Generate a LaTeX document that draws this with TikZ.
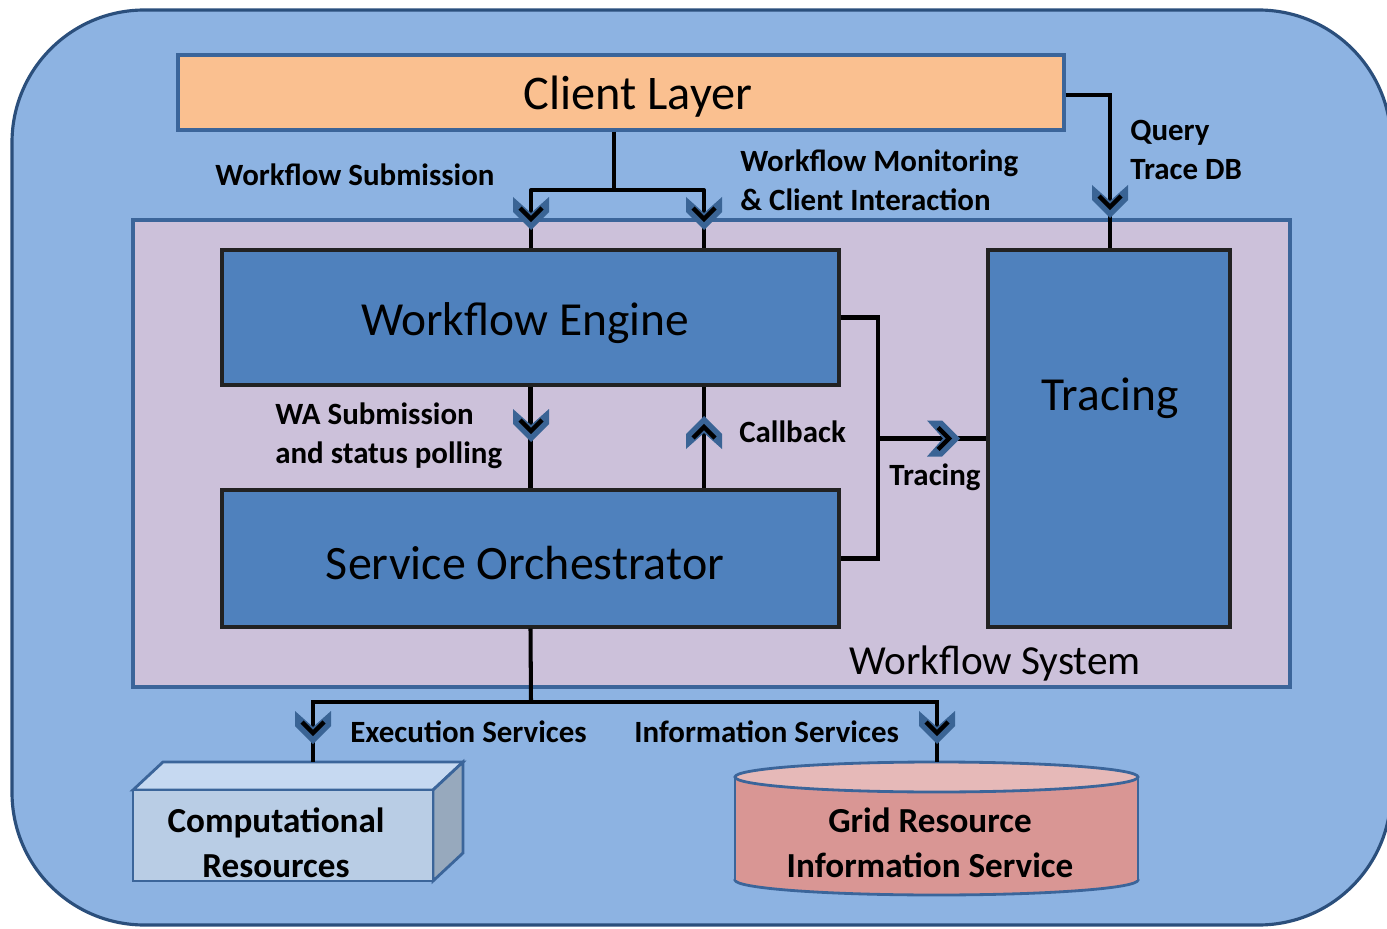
\documentclass[tikz,border=0pt]{standalone}
\usepackage{fontspec}
\setmainfont{Carlito}
\usetikzlibrary{calc}
\definecolor{outerfill}{HTML}{8DB3E2}
\definecolor{outerline}{HTML}{2B4F7C}
\definecolor{clientfill}{HTML}{FAC090}
\definecolor{boxline}{HTML}{3B659A}
\definecolor{sysfill}{HTML}{CCC1DA}
\definecolor{enginefill}{HTML}{4F81BD}
\definecolor{engineline}{HTML}{222222}
\definecolor{chevfill}{HTML}{3A6495}
\definecolor{compfront}{HTML}{B9CDE5}
\definecolor{comptop}{HTML}{C6D9F1}
\definecolor{compside}{HTML}{97A9BD}
\definecolor{cylbody}{HTML}{D99694}
\definecolor{cyltop}{HTML}{E6B9B8}
\tikzset{
  conn/.style={draw=black, line width=2.3pt},
  bigbox/.style={draw=engineline, fill=enginefill, line width=1.8pt, inner sep=0pt},
  bigtext/.style={inner sep=0pt, font=\fontsize{27}{32}\selectfont},
  lbl/.style={inner sep=0pt, font=\bfseries\fontsize{17.6}{22}\selectfont, align=left},
  boxlbl/.style={inner sep=0pt, font=\bfseries\fontsize{20}{25.5}\selectfont, align=center},
  chevD/.pic={
    \fill[chevfill] (-18,-15)--(0,1)--(18,-15)--(18,0)--(0,18)--(-18,0)--cycle;
    \draw[black, line width=2.6pt, line join=miter] (-11,-4)--(0,7)--(11,-4);},
  chevU/.pic={
    \fill[chevfill] (-18,15)--(0,-1)--(18,15)--(18,0)--(0,-18)--(-18,0)--cycle;
    \draw[black, line width=2.6pt, line join=miter] (-11,4)--(0,-7)--(11,4);},
  chevR/.pic={
    \fill[chevfill] (-15,-18)--(1,0)--(-15,18)--(0,18)--(18,0)--(0,-18)--cycle;
    \draw[black, line width=2.6pt, line join=miter] (-4,-11)--(7,0)--(-4,11);},
}
\begin{document}
\begin{tikzpicture}[x=0.02cm, y=-0.02cm]
\useasboundingbox (0,0) rectangle (1387,929);
\clip (0,0) rectangle (1387,929);
% outer container
\draw[fill=outerfill, draw=outerline, line width=1.8pt, rounded corners=2.65cm]
  (12,10) rectangle (1391,925);
% client layer
\node[draw=boxline, fill=clientfill, line width=1.8pt, minimum width=886*0.02cm,
  minimum height=75*0.02cm, inner sep=0pt] (client) at (621,92.5) {};
\node[inner sep=0pt, font=\fontsize{27.5}{32}\selectfont] (clientlbl) at (638,97) {Client Layer};
% workflow system
\node[draw=boxline, fill=sysfill, line width=1.8pt, minimum width=1157*0.02cm,
  minimum height=467*0.02cm, inner sep=0pt] (wfsys) at (711.5,453.5) {};
\node[inner sep=0pt, font=\fontsize{23.5}{28}\selectfont] (wfsyslbl) at (995,663) {Workflow System};
% engine, orchestrator, tracing
\node[bigbox, minimum width=617*0.02cm, minimum height=135*0.02cm] (engine) at (530.5,317.5) {};
\node[bigtext] (enginelbl) at (525,323) {Workflow Engine};
\node[bigbox, minimum width=617*0.02cm, minimum height=137*0.02cm] (orch) at (530.5,558.5) {};
\node[bigtext, font=\fontsize{27.3}{32}\selectfont] (orchlbl) at (525,563) {Service Orchestrator};
\node[bigbox, minimum width=242*0.02cm, minimum height=377*0.02cm] (tracing) at (1109,438.5) {};
\node[bigtext] (tracinglbl) at (1110,398) {Tracing};
% computational resources (3D box)
\begin{scope}[draw=boxline, line width=1.6pt, line join=miter]
  \filldraw[fill=comptop] (133,790) -- (163,762) -- (463,762) -- (433,790) -- cycle;
  \filldraw[fill=compside] (433,790) -- (463,762) -- (463,853) -- (433,881) -- cycle;
  \filldraw[fill=compfront] (133,790) rectangle (433,881);
\end{scope}
\coordinate (comptopc) at (313,762);
\node[boxlbl] (comp) at (276,843) {Computational\\Resources};
% cylinder
\filldraw[fill=cylbody, draw=boxline, line width=1.6pt] (936.5,880) ellipse [x radius=201.5, y radius=15];
\fill[cylbody] (735,777) rectangle (1138,880);
\draw[boxline, line width=1.6pt] (735,777) -- (735,880) (1138,777) -- (1138,880);
\filldraw[fill=cyltop, draw=boxline, line width=1.6pt] (936.5,777) ellipse [x radius=201.5, y radius=15];
\coordinate (cyltopc) at (937,762);
\node[boxlbl] (grid) at (930,843) {Grid Resource\\Information Service};
% connectors
\coordinate (j1) at (614,190);
\coordinate (s1) at (531,190);
\coordinate (s2) at (704,190);
\draw[conn] (client.south -| j1) -- (j1);
\draw[conn, line join=round] (s1 |- engine.north) -- (s1) -- (s2) -- (s2 |- engine.north);
\coordinate (q) at (1110,95);
\draw[conn] (client.east |- q) -- (q) -- (q |- tracing.north);
\draw[conn] (engine.south) -- (orch.north);
\coordinate (cb) at (704,438);
\draw[conn] (orch.north -| cb) -- (engine.south -| cb);
\coordinate (tr) at (878,438.5);
\draw[conn] (engine.east) -| (tr) |- (orch.east);
\draw[conn] (tr) -- (tracing.west);
\coordinate (b) at (531,702);
\coordinate (bl) at (313,702);
\coordinate (br) at (937,702);
\draw[conn] (orch.south) -- (b);
\draw[conn] (comptopc) -- (bl) -- (br) -- (cyltopc);
% chevrons
\path (531,212) pic {chevD};
\path (704,212) pic {chevD};
\path (1110,200) pic {chevD};
\path (531,424) pic {chevD};
\path (704,434) pic {chevU};
\path (942,438.5) pic {chevR};
\path (313,726) pic {chevD};
\path (937,726) pic {chevD};
% labels
\node[lbl] (lsub) at (355,175) {Workflow Submission};
\node[lbl, anchor=west] (lmon) at (740,180.5) {Workflow Monitoring\\\& Client Interaction};
\node[lbl, anchor=west] (lq) at (1130,150) {Query\\Trace DB};
\node[lbl, anchor=west] (lwa) at (275,435.5) {WA Submission\\and status polling};
\node[lbl, anchor=west] (lcb) at (739,432) {Callback};
\node[lbl] (ltr) at (935,477) {Tracing};
\node[lbl, anchor=west] (lex) at (350,732) {Execution Services};
\node[lbl, anchor=west] (linf) at (634,732) {Information Services};
\end{tikzpicture}
\end{document}
